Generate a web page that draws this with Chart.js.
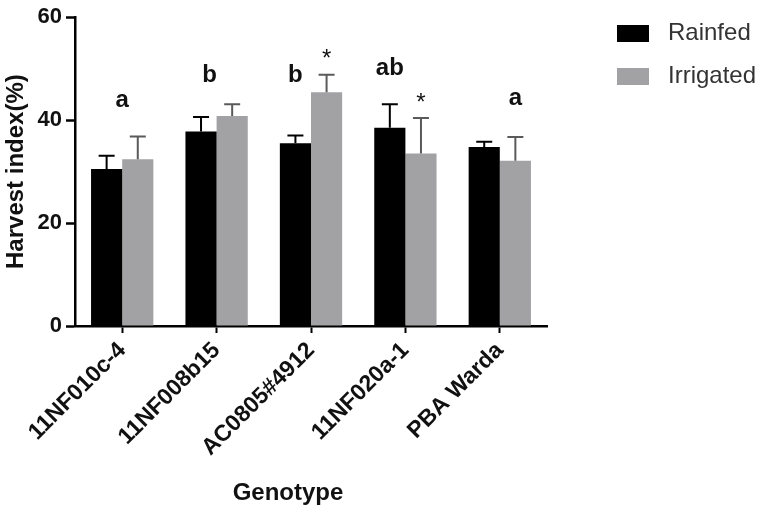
<!DOCTYPE html>
<html>
<head>
<meta charset="utf-8">
<script src="https://cdn.jsdelivr.net/npm/chart.js@4.4.1/dist/chart.umd.min.js"></script>
<style>
  html, body { margin: 0; padding: 0; background: #fff; }
  #wrap { position: relative; width: 765px; height: 511px; }
</style>
</head>
<body>
<div id="wrap"><canvas id="chart"></canvas></div>
<script>
const genotypes = ["11NF010c-4", "11NF008b15", "AC0805#4912", "11NF020a-1", "PBA Warda"];
const rainfed = [30.5, 37.8, 35.5, 38.5, 34.8];
const rainfedErr = [2.6, 2.8, 1.5, 4.6, 1.0];
const irrigated = [32.4, 40.8, 45.4, 33.5, 32.1];
const irrigatedErr = [4.4, 2.3, 3.4, 6.9, 4.6];

// significance letters per genotype and where they sit
const letters = ["a", "b", "b", "ab", "a"];
const letterOver = ["group", "group", "Rainfed", "Rainfed", "Irrigated"];
const letterLevel = [43.9, 48.6, 48.6, 50, 44.2];
// asterisks over the irrigated bars
const starLevel = [null, null, 52.8, 44.2, null];

const yMin = 0, yMax = 60, yStep = 20;

const FONT = "'Liberation Sans', Arial, sans-serif";

const errorBars = {
  id: "errorBars",
  afterDatasetsDraw(chart) {
    const { ctx, scales: { y } } = chart;
    chart.data.datasets.forEach((ds, d) => {
      const meta = chart.getDatasetMeta(d);
      meta.data.forEach((bar, i) => {
        const top = y.getPixelForValue(ds.data[i] + ds.errors[i]);
        ctx.save();
        ctx.strokeStyle = ds.errorColor;
        ctx.lineWidth = 2;
        ctx.beginPath();
        ctx.moveTo(bar.x, bar.y);
        ctx.lineTo(bar.x, top);
        ctx.moveTo(bar.x - 8, top);
        ctx.lineTo(bar.x + 8, top);
        ctx.stroke();
        ctx.restore();
      });
    });
  }
};

const marks = {
  id: "marks",
  afterDatasetsDraw(chart) {
    const { ctx, scales: { y } } = chart;
    const barOf = (label, i) => {
      const d = chart.data.datasets.findIndex((ds) => ds.label === label);
      return chart.getDatasetMeta(d).data[i];
    };
    ctx.save();
    ctx.fillStyle = "#111";
    ctx.textAlign = "center";
    ctx.textBaseline = "middle";
    ctx.font = "bold 24px " + FONT;
    letters.forEach((txt, i) => {
      let x;
      if (letterOver[i] === "group") {
        x = (barOf("Rainfed", i).x + barOf("Irrigated", i).x) / 2 - (i === 1 ? 7 : 0);
      } else {
        x = barOf(letterOver[i], i).x;
      }
      ctx.fillText(txt, x, y.getPixelForValue(letterLevel[i]));
    });
    ctx.font = "24px " + FONT;
    starLevel.forEach((lv, i) => {
      if (lv === null) return;
      const bar = barOf("Irrigated", i);
      ctx.fillText("*", bar.x, y.getPixelForValue(lv) + 5);
    });
    ctx.restore();
  }
};

// x-axis title, set a little left of centre as in the original
const xTitle = {
  id: "xTitle",
  afterDraw(chart, args, opts) {
    const { ctx, chartArea } = chart;
    ctx.save();
    ctx.font = "bold 24px " + FONT;
    ctx.fillStyle = "#111";
    ctx.textAlign = "center";
    ctx.textBaseline = "middle";
    ctx.fillText(opts.text, (chartArea.left + chartArea.right) / 2 + opts.shift, opts.y);
    ctx.restore();
  }
};

const sideLegend = {
  id: "sideLegend",
  afterDraw(chart, args, opts) {
    const { ctx } = chart;
    ctx.save();
    ctx.font = "24px " + FONT;
    ctx.textBaseline = "middle";
    chart.data.datasets.forEach((ds, d) => {
      const top = opts.y + d * opts.step;
      ctx.fillStyle = ds.backgroundColor;
      ctx.fillRect(opts.x, top, opts.boxWidth, opts.boxHeight);
      ctx.fillStyle = "#333";
      ctx.fillText(ds.label, opts.x + opts.boxWidth + opts.gap, top + opts.boxHeight / 2);
    });
    ctx.restore();
  }
};

new Chart(document.getElementById("chart"), {
  type: "bar",
  data: {
    labels: genotypes,
    datasets: [
      {
        label: "Rainfed",
        data: rainfed,
        errors: rainfedErr,
        backgroundColor: "#000000",
        errorColor: "#000000",
        categoryPercentage: 0.66,
        barPercentage: 1.0,
      },
      {
        label: "Irrigated",
        data: irrigated,
        errors: irrigatedErr,
        backgroundColor: "#a2a2a4",
        errorColor: "#5a5a5a",
        categoryPercentage: 0.66,
        barPercentage: 1.0,
      },
    ],
  },
  options: {
    responsive: true,
    maintainAspectRatio: false,
    animation: false,
    devicePixelRatio: 1,
    layout: { padding: { top: 12, right: 218, bottom: 0, left: 0 } },
    plugins: {
      legend: { display: false },
      tooltip: { enabled: false },
      sideLegend: { x: 617, y: 25, step: 43, boxWidth: 32, boxHeight: 17, gap: 19 },
      xTitle: { text: "Genotype", shift: -23, y: 493 },
    },
    scales: {
      x: {
        grid: { offset: false, drawOnChartArea: false, drawTicks: true, tickLength: 7, tickColor: "#000", tickWidth: 2 },
        border: { display: true, color: "#000", width: 2.5 },
        ticks: {
          color: "#111",
          font: { family: FONT, size: 23, weight: "bold" },
          minRotation: 45,
          maxRotation: 45,
          padding: 4,
        },
        afterFit(scale) { scale.height = 185; },
      },
      y: {
        min: yMin,
        max: yMax,
        grid: { drawOnChartArea: false, drawTicks: true, tickLength: 9, tickColor: "#000", tickWidth: 2.5 },
        border: { display: true, color: "#000", width: 2.5 },
        ticks: {
          stepSize: yStep,
          color: "#111",
          font: { family: FONT, size: 22, weight: "bold" },
          padding: 4,
        },
        title: {
          display: true,
          text: "Harvest index(%)",
          color: "#111",
          font: { family: FONT, size: 24, weight: "bold" },
          padding: { top: 2, bottom: 2 },
        },
        afterFit(scale) { scale.width = 75; },
      },
    },
  },
  plugins: [errorBars, marks, xTitle, sideLegend],
});
</script>
</body>
</html>
